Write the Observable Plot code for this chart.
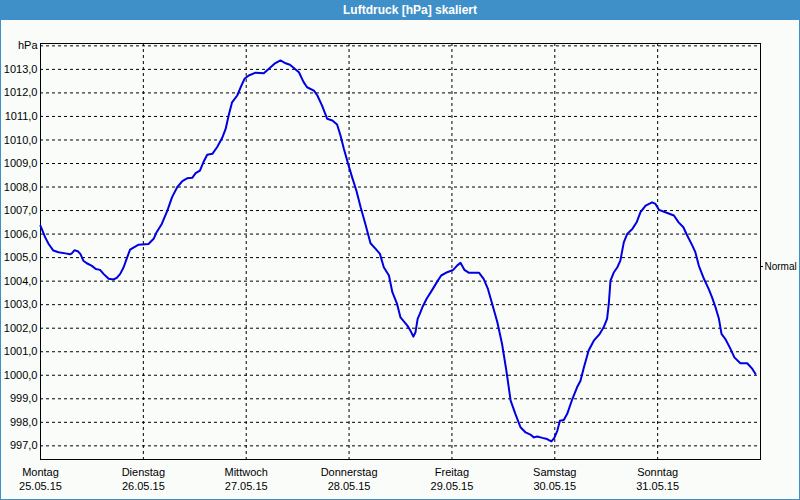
<!DOCTYPE html>
<html>
<head>
<meta charset="utf-8">
<script src="https://cdn.jsdelivr.net/npm/d3@7"></script>
<script src="https://cdn.jsdelivr.net/npm/@observablehq/plot@0.6"></script>
<style>
  html, body { margin: 0; padding: 0; background: #fafcfa; }
  #wrap { position: relative; width: 800px; height: 500px; overflow: hidden; background: #fafcfa; }
  #title { position: absolute; left: 0; top: 0; width: 800px; height: 20px; background: #3f90c8;
           color: #fff; font: bold 12px "Liberation Sans", Arial, sans-serif; line-height: 20px;
           text-align: center; box-sizing: border-box; padding-left: 20px; }
  #chart { position: absolute; left: 0; top: 20px; }
  #chart svg { overflow: visible; }
  #border { position: absolute; left: 0; top: 0; width: 800px; height: 500px; box-sizing: border-box;
            border: 1px solid #3f90c8; border-top: none; pointer-events: none; }
</style>
</head>
<body>
<div id="wrap">
  <div id="title">Luftdruck [hPa] skaliert</div>
  <div id="chart"></div>
  <div id="border"></div>
</div>
<script>
// Hours since Monday 25.05.15 00:00
const hours = [0,1.1,1.9,3.0,4.2,5.8,6.9,7.3,7.9,8.7,9.3,10.0,10.8,12.0,12.9,13.9,14.7,15.9,17.0,17.8,18.6,19.4,20.1,20.9,22.1,22.9,
  25.2,26.4,27.1,28.3,29.6,30.7,31.9,33.1,34.2,35.4,36.2,37.2,38.0,38.9,40.1,41.2,42.4,43.2,43.9,44.7,45.9,46.7,47.6,
  48.6,50.2,52.1,53.3,54.6,56.0,57.2,58.2,60.3,61.4,62.2,63.8,64.6,65.7,66.9,68.1,69.2,70.0,70.8,71.9,
  72.7,73.7,74.7,75.8,77.0,78.2,79.2,80.1,81.3,82.1,83.2,84.0,85.6,86.3,87.0,87.5,88.0,88.5,89.1,90.1,91.4,92.6,93.5,94.9,
  96.3,97.2,98.0,98.9,99.9,102.3,103.4,104.4,105.4,106.6,107.7,108.7,109.7,110.8,112.0,113.2,114.3,115.1,115.9,117.1,118.2,119.2,
  119.9,120.6,121.2,122.1,122.9,124.1,125.2,126.0,126.8,127.9,129.1,130.5,131.4,132.2,132.6,133.0,133.8,134.6,135.3,136.1,136.9,138.1,139.1,140.0,141.2,142.7,
  143.5,144.3,145.8,147.8,148.9,150.0,150.9,152.1,152.8,153.6,154.8,155.9,156.7,157.5,158.3,158.9,159.8,161.0,161.9,163.3,164.9,166.1,166.8];
const pressure = [1006.35,1005.86,1005.58,1005.30,1005.23,1005.18,1005.14,1005.18,1005.31,1005.27,1005.16,1004.87,1004.76,1004.65,1004.52,1004.48,1004.31,1004.10,1004.07,1004.14,1004.31,1004.59,1004.95,1005.34,1005.47,1005.55,
  1005.58,1005.80,1006.08,1006.43,1007.00,1007.57,1007.99,1008.25,1008.37,1008.39,1008.59,1008.70,1009.05,1009.37,1009.41,1009.69,1010.09,1010.47,1011.04,1011.60,1011.89,1012.24,1012.60,
  1012.74,1012.86,1012.84,1013.03,1013.24,1013.38,1013.26,1013.20,1012.88,1012.46,1012.24,1012.10,1011.89,1011.46,1010.90,1010.83,1010.66,1010.19,1009.62,1008.91,
  1008.42,1007.85,1007.14,1006.43,1005.61,1005.37,1005.16,1004.59,1004.24,1003.53,1003.03,1002.46,1002.11,1001.90,1001.64,1001.83,1002.40,1002.61,1002.89,1003.25,1003.63,1003.99,1004.24,1004.38,
  1004.48,1004.66,1004.78,1004.48,1004.36,1004.36,1004.10,1003.67,1003.03,1002.25,1001.33,1000.20,998.92,998.36,997.79,997.57,997.48,997.36,997.40,997.34,997.29,997.19,
  997.34,997.65,998.07,998.10,998.36,998.99,999.49,999.77,1000.34,1001.05,1001.47,1001.76,1002.04,1002.40,1003.03,1004.02,1004.38,1004.59,1004.87,1005.65,1006.01,1006.22,1006.50,1006.93,1007.21,1007.35,
  1007.28,1007.03,1006.93,1006.79,1006.50,1006.29,1005.94,1005.51,1005.23,1004.66,1004.10,1003.67,1003.31,1002.89,1002.40,1001.76,1001.54,1001.12,1000.76,1000.51,1000.51,1000.27,1000.06];

const dayHours = [0, 24, 48, 72, 96, 120, 144];
const dayNames = ["Montag", "Dienstag", "Mittwoch", "Donnerstag", "Freitag", "Samstag", "Sonntag"];
const dayDates = ["25.05.15", "26.05.15", "27.05.15", "28.05.15", "29.05.15", "30.05.15", "31.05.15"];
const yTicks = [997, 998, 999, 1000, 1001, 1002, 1003, 1004, 1005, 1006, 1007, 1008, 1009, 1010, 1011, 1012, 1013, 1014];
const unitLabel = "hPa";
const normalValue = [1004.62];
const normalLabel = "Normal";

const data = hours.map((h, i) => ({h, p: pressure[i]}));
const fmt = d => d === 1014 ? unitLabel : d.toFixed(1).replace(".", ",");

const chart = Plot.plot({
  width: 800,
  height: 479,
  marginTop: 23,
  marginBottom: 40,
  marginLeft: 40,
  marginRight: 40,
  style: {background: "transparent", fontFamily: "'Liberation Sans', Arial, sans-serif", fontSize: "11px", color: "black", overflow: "visible"},
  x: {domain: [0, 168], axis: null},
  y: {domain: [996.42, 1014.1], axis: null},
  marks: [
    Plot.ruleY(yTicks, {stroke: "black", strokeOpacity: 1, strokeDasharray: "3,3"}),
    Plot.ruleX(dayHours, {stroke: "black", strokeOpacity: 1, strokeDasharray: "3,3", insetBottom: -4}),
    Plot.frame({stroke: "black", strokeOpacity: 1}),
    Plot.axisY(yTicks, {anchor: "left", tickSize: 0, tickPadding: 3, tickFormat: fmt, label: null, fontSize: 11}),
    Plot.text(dayHours, {x: d => d, text: (d, i) => dayNames[i], frameAnchor: "bottom", dy: 16, fill: "black"}),
    Plot.text(dayHours, {x: d => d, text: (d, i) => dayDates[i], frameAnchor: "bottom", dy: 30, fill: "black"}),
    Plot.ruleY(normalValue, {stroke: "black", strokeOpacity: 1, insetLeft: 720, insetRight: -3}),
    Plot.text(normalValue, {y: d => d, text: () => normalLabel, frameAnchor: "right", dx: 4, textAnchor: "start", fill: "black", fontSize: 10}),
    Plot.line(data, {x: "h", y: "p", stroke: "#0000e0", strokeWidth: 2})
  ]
});
document.getElementById("chart").appendChild(chart);
</script>
</body>
</html>
